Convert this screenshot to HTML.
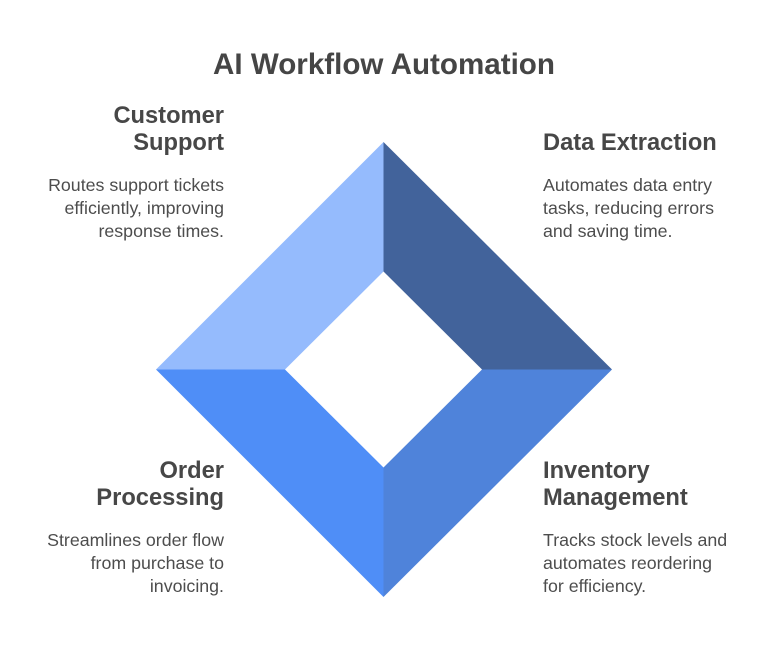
<!DOCTYPE html>
<html>
<head>
<meta charset="utf-8">
<style>
  html, body { margin:0; padding:0; background:#ffffff; }
  body { width:768px; height:654px; position:relative; overflow:hidden; font-family:"Liberation Sans", Arial, sans-serif; }
  .t { position:absolute; white-space:nowrap; }
  .title { left:0; width:768px; text-align:center; top:45px; font-size:29.6px; line-height:40px; font-weight:bold; color:#454545; }
  .h { font-size:23.7px; line-height:27px; font-weight:bold; color:#474747; }
  .b { font-size:17.8px; line-height:23px; color:#4d4d4d; }
  .r { text-align:right; right:544px; }
  .l { left:543px; text-align:left; }
  svg { position:absolute; left:0; top:0; }
</style>
</head>
<body>
<svg width="768" height="654" viewBox="0 0 768 654">
  <polygon points="383.5,142 383.5,271.5 285,369.5 156,369.5" fill="#95BBFD"/>
  <polygon points="383.5,142 612,369.5 482,369.5 383.5,271.5" fill="#42639B"/>
  <polygon points="612,369.5 383.5,597 383.5,467.5 482,369.5" fill="#4F83DA"/>
  <polygon points="156,369.5 285,369.5 383.5,467.5 383.5,597" fill="#4F8EF7"/>
</svg>

<div class="t title">AI Workflow Automation</div>

<div class="t h r" style="top:102.5px;">Customer<br>Support</div>
<div class="t b r" style="top:174px;">Routes support tickets<br>efficiently, improving<br>response times.</div>

<div class="t h l" style="top:129.5px;">Data Extraction</div>
<div class="t b l" style="top:174px;">Automates data entry<br>tasks, reducing errors<br>and saving time.</div>

<div class="t h r" style="top:457.5px;">Order<br>Processing</div>
<div class="t b r" style="top:529px;">Streamlines order flow<br>from purchase to<br>invoicing.</div>

<div class="t h l" style="top:457.5px;">Inventory<br>Management</div>
<div class="t b l" style="top:529px;">Tracks stock levels and<br>automates reordering<br>for efficiency.</div>
</body>
</html>
